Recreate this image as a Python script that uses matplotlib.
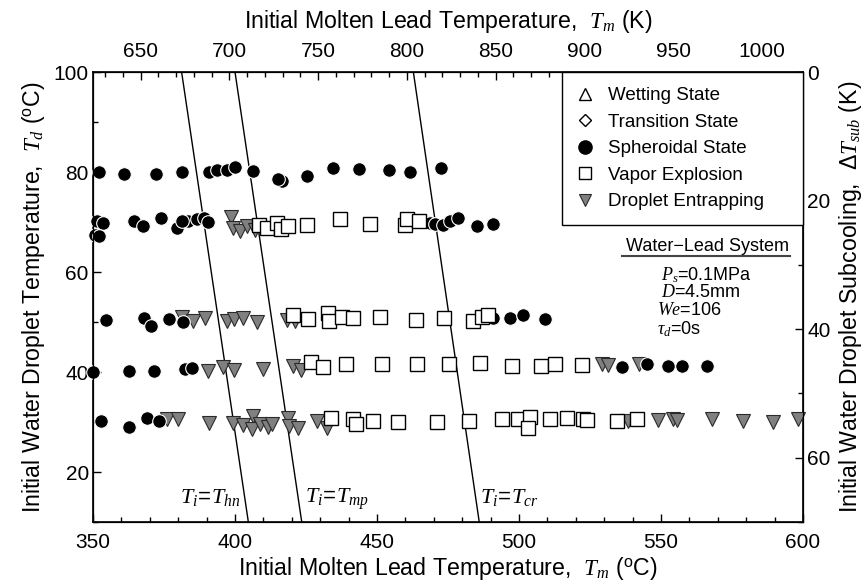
import matplotlib
matplotlib.use("Agg")
import matplotlib.pyplot as plt
from matplotlib.lines import Line2D
from matplotlib.ticker import MultipleLocator

plt.rcParams["font.family"] = ["Liberation Sans", "DejaVu Sans"]
plt.rcParams["mathtext.fontset"] = "custom"
plt.rcParams["mathtext.rm"] = "Liberation Sans"
plt.rcParams["mathtext.it"] = "Liberation Serif:italic"
plt.rcParams["mathtext.bf"] = "Liberation Sans:bold"
plt.rcParams["mathtext.sf"] = "Liberation Sans"

# Spheroidal state (filled circles): molten lead temp (C), droplet temp (C)
sph_tm = [352.2, 361.0, 372.1, 381.5, 391.0, 393.8, 397.1, 400.0, 406.2, 416.4, 415.3,
          425.2, 434.6, 443.7, 454.3, 461.6, 472.4,
          351.5, 353.4, 350.8, 352.2, 364.4, 367.7, 373.9, 379.5, 383.6, 386.7, 381.2,
          389.1, 390.6, 468.8, 470.4, 473.4, 475.7, 478.6, 485.3, 491.0,
          354.6, 368.0, 370.3, 376.9, 381.6, 491.0, 496.8, 501.5, 509.2,
          350.1, 362.8, 371.5, 382.4, 384.8, 536.2, 544.9, 552.6, 557.3, 566.1,
          352.7, 362.8, 368.9, 373.3]
sph_td = [80.0, 79.7, 79.7, 80.1, 80.0, 80.4, 80.4, 81.0, 80.2, 78.2, 78.6,
          79.3, 80.8, 80.6, 80.4, 80.1, 80.8,
          70.2, 69.8, 67.4, 67.2, 70.3, 69.2, 70.8, 68.8, 70.3, 70.6, 70.2,
          70.8, 70.1, 69.9, 69.7, 69.5, 70.3, 70.8, 69.2, 69.7,
          50.5, 50.8, 49.3, 50.6, 50.0, 50.8, 50.8, 51.4, 50.6,
          40.0, 40.2, 40.3, 40.6, 40.8, 41.0, 41.6, 41.3, 41.3, 41.3,
          30.2, 29.0, 30.9, 30.2]

# Vapor explosion (open squares)
vap_tm = [408.6, 411.2, 414.9, 416.2, 418.8, 425.5, 437.0, 447.5, 459.9, 460.5, 464.9,
          420.5, 425.8, 432.9, 433.2, 437.6, 441.4, 451.1, 463.7, 473.6, 483.7, 486.9, 489.2,
          426.6, 430.9, 439.1, 451.7, 464.2, 475.5, 486.3, 497.5, 507.9, 512.7, 522.1,
          433.7, 441.4, 442.6, 448.7, 457.5, 471.0, 482.5, 493.9, 499.8, 503.9, 503.3,
          510.9, 516.8, 522.4, 523.8, 534.4, 541.4]
vap_td = [69.5, 68.8, 69.9, 68.6, 69.2, 69.5, 70.6, 69.7, 69.4, 70.6, 70.3,
          51.4, 50.6, 51.9, 50.3, 51.1, 50.8, 51.1, 50.5, 50.8, 50.3, 51.1, 51.4,
          42.1, 41.0, 41.6, 41.6, 41.6, 41.6, 41.9, 41.3, 41.3, 41.6, 41.5,
          30.9, 30.7, 29.7, 30.2, 30.0, 30.0, 30.2, 30.6, 30.6, 31.1, 28.8,
          30.6, 30.9, 30.6, 30.4, 30.2, 30.6]

# Droplet entrapping (gray down triangles)
ent_tm = [398.6, 399.4, 401.8, 404.1, 407.0,
          381.2, 385.1, 389.4, 397.1, 399.6, 402.9, 407.9, 418.2, 421.1,
          390.6, 395.7, 399.6, 409.7, 420.3, 423.1, 529.1, 531.5, 542.4,
          375.9, 380.0, 391.0, 399.2, 402.7, 406.2, 405.9, 408.8, 411.7, 412.9, 418.8,
          419.1, 422.3, 428.8, 432.3, 538.5, 549.0, 554.3, 555.7, 567.8, 578.8, 589.6, 598.4]
ent_td = [71.1, 68.8, 68.2, 69.2, 68.5,
          51.1, 50.3, 50.8, 50.2, 50.6, 50.8, 50.0, 50.5, 50.2,
          40.2, 41.0, 40.4, 40.6, 41.3, 40.4, 41.6, 41.4, 41.6,
          30.6, 30.6, 29.9, 29.9, 29.5, 31.3, 28.7, 29.7, 29.0, 29.7, 30.9,
          29.3, 28.8, 30.2, 28.8, 30.2, 30.4, 30.7, 30.4, 30.6, 30.2, 30.0, 30.7]

# No points of these states in the figure, legend only
wet_tm, wet_td = [], []
tra_tm, tra_td = [], []

# Contact temperature lines: T_m at T_d = 100 C and T_d = 10 C
line_td = [100, 10]
line_top = [381.2, 400.0, 462.8]
line_bottom = [404.7, 423.5, 486.0]
line_labels = [r"$T_i\!=\!T_{hn}$", r"$T_i\!=\!T_{mp}$", r"$T_i\!=\!T_{cr}$"]

fig = plt.figure(figsize=(8.67, 5.87), dpi=100)
ax = fig.add_axes([93 / 867, 1 - 522 / 587, 710 / 867, 450 / 587])

for top, bot in zip(line_top, line_bottom):
    ax.plot([top, bot], line_td, color="black", lw=1.0, zorder=2)

ax.plot(ent_tm, ent_td, ls="none", marker="v", ms=9.5, mfc="#808080", mec="#2a2a2a",
        mew=0.8, clip_on=False, zorder=3)
ax.plot(sph_tm, sph_td, ls="none", marker="o", ms=9.8, mfc="black", mec="white",
        mew=0.8, clip_on=False, zorder=4)
ax.plot(vap_tm, vap_td, ls="none", marker="s", ms=10.5, mfc="white", mec="black",
        mew=1.0, clip_on=False, zorder=5)
ax.plot(wet_tm, wet_td, ls="none", marker="^")
ax.plot(tra_tm, tra_td, ls="none", marker="D")

ax.text(401.8, 13.8, line_labels[0], ha="right", va="baseline", fontsize=16)
ax.text(424.6, 13.8, line_labels[1], ha="left", va="baseline", fontsize=16)
ax.text(486.3, 13.8, line_labels[2], ha="left", va="baseline", fontsize=16)

ax.set_xlim(350, 600)
ax.set_ylim(10, 100)
ax.xaxis.set_major_locator(MultipleLocator(50))
ax.xaxis.set_minor_locator(MultipleLocator(10))
ax.yaxis.set_major_locator(MultipleLocator(20))
ax.yaxis.set_minor_locator(MultipleLocator(10))
ax.set_yticks([20, 40, 60, 80, 100])
ax.tick_params(which="both", direction="in", labelsize=15)
ax.tick_params(which="major", length=6, width=1)
ax.tick_params(which="minor", length=3.5, width=1)
ax.tick_params(axis="x", pad=8)
ax.tick_params(axis="y", pad=3)
ax.set_xlabel(r"Initial Molten Lead Temperature,  $T_m$ ($^{\rm o}$C)", fontsize=16.7, labelpad=2)
ax.set_ylabel(r"Initial Water Droplet Temperature,  $T_d$ ($^{\rm o}$C)", fontsize=16.7, labelpad=5)

# annotation block
ax.text(0.865, 0.613, "Water\u2212Lead System", transform=ax.transAxes, ha="center",
        va="center", fontsize=13)
ax.plot([0.745, 0.982], [0.591, 0.591], transform=ax.transAxes, color="#444444", lw=1.5)
ax.text(0.80, 0.549, r"$P_s$=0.1MPa", transform=ax.transAxes, ha="left", va="center", fontsize=13)
ax.text(0.80, 0.509, r"$D$=4.5mm", transform=ax.transAxes, ha="left", va="center", fontsize=13)
ax.text(0.795, 0.469, r"$We$=106", transform=ax.transAxes, ha="left", va="center", fontsize=13)
ax.text(0.795, 0.429, r"$\tau_d$=0s", transform=ax.transAxes, ha="left", va="center", fontsize=13)

for s in ax.spines.values():
    s.set_linewidth(1.2)

# right axis: subcooling
axr = ax.twinx()
axr.set_ylim(70, 0)
axr.yaxis.set_major_locator(MultipleLocator(20))
axr.yaxis.set_minor_locator(MultipleLocator(10))
axr.tick_params(which="both", direction="in", labelsize=15, pad=3)
axr.tick_params(which="major", length=6, width=1)
axr.tick_params(which="minor", length=3.5, width=1)
axr.set_ylabel(r"Initial Water Droplet Subcooling,  $\mathit{\Delta T}_{sub}$ (K)", fontsize=16.7, labelpad=5)

# top axis: kelvin
axt = ax.twiny()
axt.set_xlim(623.15, 1023.15)
axt.xaxis.set_major_locator(MultipleLocator(50))
axt.xaxis.set_minor_locator(MultipleLocator(10))
axt.set_xticks([650, 700, 750, 800, 850, 900, 950, 1000])
axt.tick_params(which="both", direction="in", labelsize=15, pad=8)
axt.tick_params(which="major", length=6, width=1)
axt.tick_params(which="minor", length=3.5, width=1)
axt.set_xlabel(r"Initial Molten Lead Temperature,  $T_m$ (K)", fontsize=16.7, labelpad=10)

handles = [
    Line2D([], [], ls="none", marker="^", ms=9, mfc="white", mec="black", mew=1),
    Line2D([], [], ls="none", marker="D", ms=6, mfc="white", mec="black", mew=1),
    Line2D([], [], ls="none", marker="o", ms=9.5, mfc="black", mec="black"),
    Line2D([], [], ls="none", marker="s", ms=9, mfc="white", mec="black", mew=1),
    Line2D([], [], ls="none", marker="v", ms=9, mfc="#808080", mec="#2a2a2a", mew=0.8),
]
names = ["Wetting State", "Transition State", "Spheroidal State", "Vapor Explosion",
         "Droplet Entrapping"]
leg = axt.legend(handles, names, loc="upper left", bbox_to_anchor=(0.6606, 0, 0.3394, 1),
                 mode="expand", borderaxespad=0, fancybox=False, fontsize=13.5,
                 handlelength=0.8, handletextpad=0.85, labelspacing=0.5, borderpad=0.8,
                 framealpha=1)
leg.get_frame().set_edgecolor("black")
leg.get_frame().set_linewidth(1.0)
leg.set_zorder(10)

fig.savefig("out.png", dpi=100)
